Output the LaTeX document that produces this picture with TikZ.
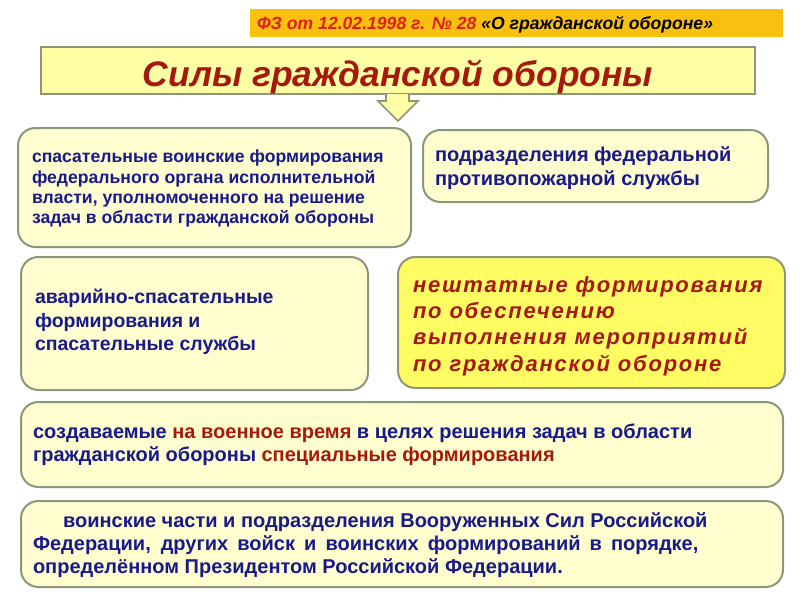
\documentclass[tikz,border=0pt]{standalone}
\usepackage{fontspec}
\setmainfont{Liberation Sans}
\newfontfamily\spacedfont[LetterSpace=8]{Liberation Sans}
\usepackage{tikz}

\definecolor{navytext}{RGB}{25,25,140}
\definecolor{darkredtext}{RGB}{165,25,15}
\definecolor{bannerred}{RGB}{225,30,25}
\definecolor{bannerfill}{RGB}{250,192,15}
\definecolor{creamfill}{RGB}{254,254,206}
\definecolor{lemonfill}{RGB}{255,252,100}
\definecolor{titlefill}{RGB}{255,255,165}
\definecolor{framegrey}{RGB}{140,150,122}

\tikzset{
  roundbox/.style={draw=framegrey, fill=creamfill, line width=1.5pt,
    rounded corners=13pt},
  line/.style={anchor=base west, text=navytext, font=\bfseries}
}

\begin{document}
\begin{tikzpicture}[y=0.75pt, x=0.75pt, yscale=-1, inner sep=0pt, outer sep=0pt]
\useasboundingbox (0,0) rectangle (800,600);

% banner and title
\path[fill=bannerfill] (250,9) rectangle (783,37);
\path (257,29) node[anchor=base west, font=\bfseries\itshape\fontsize{13.2}{15}\selectfont]
  (lawref) {\textcolor{bannerred}{ФЗ от 12.02.1998 г. № 28} «О гражданской обороне»};
\path[draw=framegrey, fill=titlefill, line width=1.5pt] (41,47) rectangle (755,94);
\path (398,86) node[anchor=base, text=darkredtext,
  font=\bfseries\itshape\fontsize{26.6}{30}\selectfont] (title) {Силы гражданской обороны};
\path[draw=framegrey, fill=titlefill, line width=1.2pt, line join=miter]
  (386,94) -- (386,101) -- (378,101) -- (398,121) -- (418,101) -- (409,101) -- (409,94);

% boxes
\path[roundbox] (18,128) rectangle (411,247);
\path[roundbox] (423,130) rectangle (768,202);
\path[roundbox] (21,257) rectangle (368,390);
\path[roundbox, fill=lemonfill] (398,257) rectangle (785,388);
\path[roundbox] (21,402) rectangle (783,487);
\path[roundbox] (21,501) rectangle (783,587);

% top left
\begin{scope}[every node/.style={line, font=\bfseries\fontsize{13.2}{15}\selectfont}]
\path (32,162) node (rescue1) {спасательные воинские формирования};
\path (32,183) node (rescue2) {федерального органа исполнительной};
\path (32,203) node (rescue3) {власти, уполномоченного на решение};
\path (32,223) node (rescue4) {задач в области гражданской обороны};
\end{scope}

% top right
\begin{scope}[every node/.style={line, font=\bfseries\fontsize{15}{17}\selectfont}]
\path (435,161) node (fire1) {подразделения федеральной};
\path (435,185) node (fire2) {противопожарной службы};
\end{scope}

% middle left
\begin{scope}[every node/.style={line, font=\bfseries\fontsize{14.6}{17}\selectfont}]
\path (35,303) node (emerg1) {аварийно-спасательные};
\path (35,327) node (emerg2) {формирования и};
\path (35,350) node (emerg3) {спасательные службы};
\end{scope}

% middle right
\begin{scope}[every node/.style={line, text=darkredtext,
    font=\spacedfont\bfseries\itshape\fontsize{16.5}{19}\selectfont}]
\path (413,292) node (nonstaff1) {нештатные формирования};
\path (413,318) node (nonstaff2) {по обеспечению};
\path (413,344) node (nonstaff3) {выполнения мероприятий};
\path (413,371) node (nonstaff4) {по гражданской обороне};
\end{scope}

% lower boxes
\begin{scope}[every node/.style={line, font=\bfseries\fontsize{15}{17}\selectfont}]
\path (33,438) node (special1) {создаваемые \textcolor{darkredtext}{на военное время}
  в целях решения задач в области};
\path (33,461) node (special2) {гражданской обороны
  \textcolor{darkredtext}{специальные формирования}};
\path (63,527) node (troops1) {воинские части и подразделения Вооруженных Сил Российской};
\path (33,550) node (troops2) {\makebox[499pt][s]{Федерации, других войск и воинских
  формирований в порядке,}};
\path (33,573) node (troops3) {определённом Президентом Российской Федерации.};
\end{scope}

\end{tikzpicture}
\end{document}
